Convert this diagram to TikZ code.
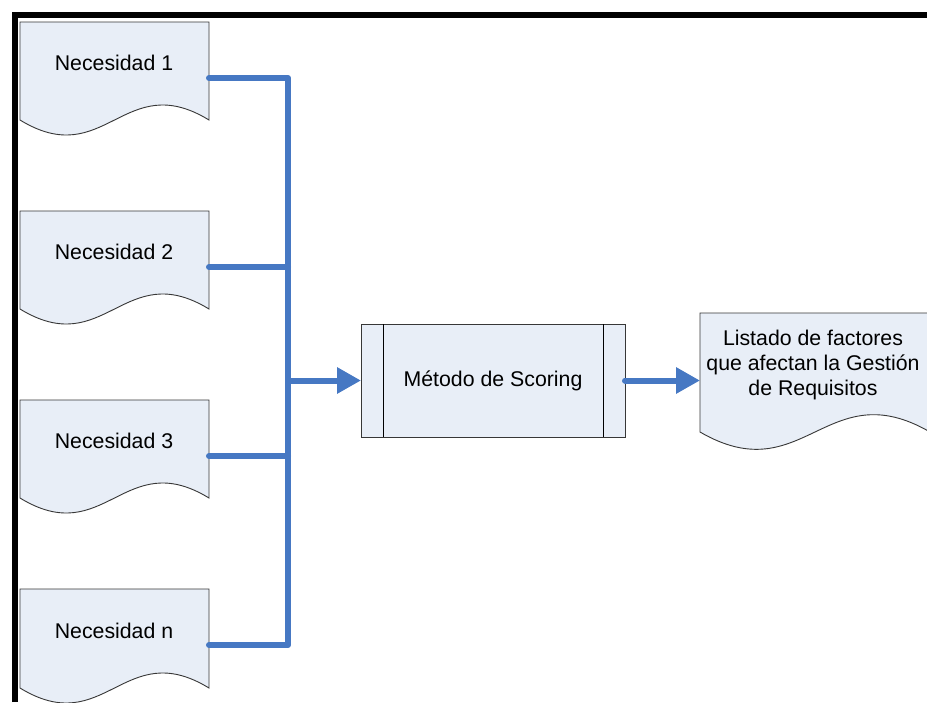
\documentclass[tikz,border=0pt]{standalone}
\usepackage{fontspec}
\setmainfont{Liberation Sans}
\usetikzlibrary{arrows.meta}
\definecolor{docfill}{RGB}{232,238,247}
\definecolor{connblue}{RGB}{70,120,195}
\definecolor{edgegray}{RGB}{55,55,55}
\newcommand{\docshape}[5]{% L T R B amplitude
  \draw[docstyle] (#1,#2) -- (#3,#2) -- (#3,#4)
    .. controls +({-0.45*(#3-#1)},{-#5}) and +({0.45*(#3-#1)},{#5}) .. (#1,#4) -- cycle;}
\begin{document}
\begin{tikzpicture}[x=1pt,y=-1pt,
  docstyle/.style={draw=edgegray, fill=docfill, line width=0.9pt},
  lbl/.style={font=\fontsize{21.3}{25}\selectfont, inner sep=0pt, align=center},
  procbox/.style={draw=edgegray, fill=docfill, line width=0.9pt, minimum width=264pt, minimum height=113pt, inner sep=0pt, outer sep=0pt, font=\fontsize{21.3}{25}\selectfont},
  connline/.style={draw=connblue, line width=6pt, line cap=round, line join=round},
  arrowline/.style={connline, -{Triangle[length=24pt,width=25pt]}}
]
\useasboundingbox (0,0) rectangle (927,702);
\fill[white] (0,0) rectangle (927,702);

% input documents
\docshape{20}{22}{209}{120}{52}
\docshape{20}{211}{209}{309}{52}
\docshape{20}{400}{209}{498}{52}
\docshape{20}{589}{209}{688}{52}
\node[lbl] (n1) at (114,63) {Necesidad 1};
\node[lbl] (n2) at (114,252) {Necesidad 2};
\node[lbl] (n3) at (114,441) {Necesidad 3};
\node[lbl] (nn) at (114,631) {Necesidad n};

% output document
\docshape{700}{313}{930}{432}{60}
\node[lbl] (out) at (813,365) {Listado de factores\\que afectan la Gestión\\de Requisitos};

% process
\node[procbox] (proc) at (493,380.5) {Método de Scoring};
\draw[draw=black, line width=0.9pt] ([xshift=22pt]proc.north west) -- ([xshift=22pt]proc.south west);
\draw[draw=black, line width=0.9pt] ([xshift=-22pt]proc.north east) -- ([xshift=-22pt]proc.south east);

% connection points
\coordinate (n1o) at (209,78);
\coordinate (n2o) at (209,267);
\coordinate (n3o) at (209,456);
\coordinate (nno) at (209,645);
\coordinate (j1) at (288,78);
\coordinate (j2) at (288,267);
\coordinate (j3) at (288,456);
\coordinate (jn) at (288,645);
\coordinate (jm) at (288,380.5);
\coordinate (outin) at (700,380.5);

\draw[connline] (n1o) -- (j1) -- (jn) -- (nno);
\draw[connline] (n2o) -- (j2);
\draw[connline] (n3o) -- (j3);
\draw[arrowline] (jm) -- (proc.west);
\draw[arrowline] (proc.east) -- (outin);

% frame
\draw[black, line width=6pt, line join=miter] (15,702) -- (15,15) -- (927,15);
\end{tikzpicture}
\end{document}
